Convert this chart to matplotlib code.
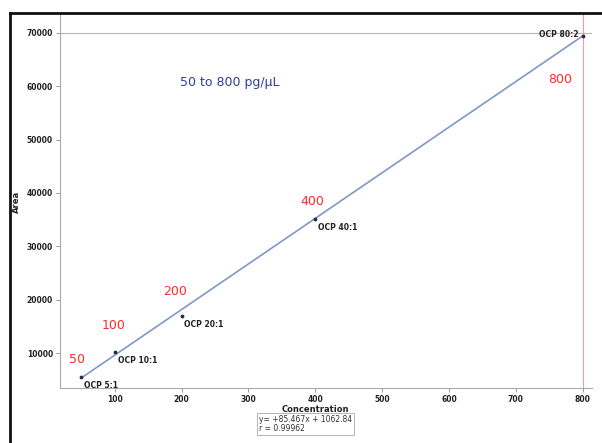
import numpy as np
import matplotlib
matplotlib.use("Agg")
from matplotlib import pyplot as plt
from matplotlib.lines import Line2D

# calibration points
conc = [50, 100, 200, 400, 800]
area = [5500, 10200, 17000, 35100, 69500]
labels = ["OCP 5:1", "OCP 10:1", "OCP 20:1", "OCP 40:1", "OCP 80:2"]
red_labels = ["50", "100", "200", "400", "800"]

slope = 85.467
intercept = 1062.84

fig = plt.figure(figsize=(6.02, 4.43), dpi=100)
ax = fig.add_axes([60 / 602, 1 - 388 / 443, (592 - 60) / 602, (388 - 14) / 443])

ax.set_xlim(18, 814)
ax.set_ylim(3440, 73560)

# fit line
xs = np.array([conc[0], conc[-1]])
ax.plot(xs, slope * xs + intercept, color="#7f98c8", lw=1.2, zorder=2)
ax.scatter(conc, area, s=3, color="#2a2a3a", zorder=3)

# red guide lines
ax.axhline(70000, color="#e8a0a8", lw=0.8, zorder=1)
ax.axvline(800, color="#e8a0a8", lw=0.8, zorder=1)

for x, y, lab in zip(conc[:-1], area[:-1], labels[:-1]):
    ax.annotate(lab, (x, y), xytext=(2, -3), textcoords="offset points",
                ha="left", va="top", fontsize=5.5, fontweight="bold", color="#222222")
ax.annotate(labels[-1], (conc[-1], area[-1]), xytext=(-3, 1), textcoords="offset points",
            ha="right", va="center", fontsize=5.5, fontweight="bold", color="#222222")

# red concentration labels
red_off = [(-3, 8), (-1, 14), (-5, 13), (-2, 8), (-16, -36)]
for x, y, lab, off in zip(conc, area, red_labels, red_off):
    ax.annotate(lab, (x, y), xytext=off, textcoords="offset points",
                ha="center", va="bottom", fontsize=9, color="#ff2a2a")

ax.text(0.226, 0.818, "50 to 800 pg/\u03bcL", transform=ax.transAxes,
        fontsize=9, color="#2e3f9a", ha="left", va="center")

ax.set_xticks([100, 200, 300, 400, 500, 600, 700, 800])
ax.set_yticks([10000, 20000, 30000, 40000, 50000, 60000, 70000])
ax.tick_params(labelsize=5.5, length=3, width=0.6, color="#888888", pad=2)
for lab in ax.get_xticklabels() + ax.get_yticklabels():
    lab.set_fontweight("bold")
    lab.set_color("#222222")

for side in ["top", "right"]:
    ax.spines[side].set_visible(False)
for side in ["left", "bottom"]:
    ax.spines[side].set_color("#aaaaaa")
    ax.spines[side].set_linewidth(0.8)

fig.text(315 / 602, 1 - 409 / 443, "Concentration", ha="center", va="center",
         fontsize=6, fontweight="bold", color="#222222")
fig.text(16 / 602, 1 - 202 / 443, "Area", ha="center", va="center", rotation=90,
         fontsize=6, fontweight="bold", color="#222222")

fig.text(259 / 602, 1 - 424 / 443, "y= +85.467x + 1062.84\nr = 0.99962",
         ha="left", va="center", fontsize=5.5, color="#333333", linespacing=1.1,
         bbox=dict(boxstyle="square,pad=0.25", fc="white", ec="#aaaaaa", lw=0.6))

# outer frame of the screenshot
fig.add_artist(Line2D([10 / 602, 10 / 602], [0, 1 - 13 / 443], color="#111111", lw=2))
fig.add_artist(Line2D([10 / 602, 1], [1 - 13 / 443, 1 - 13 / 443], color="#111111", lw=2))

fig.savefig("out.png", dpi=100)
